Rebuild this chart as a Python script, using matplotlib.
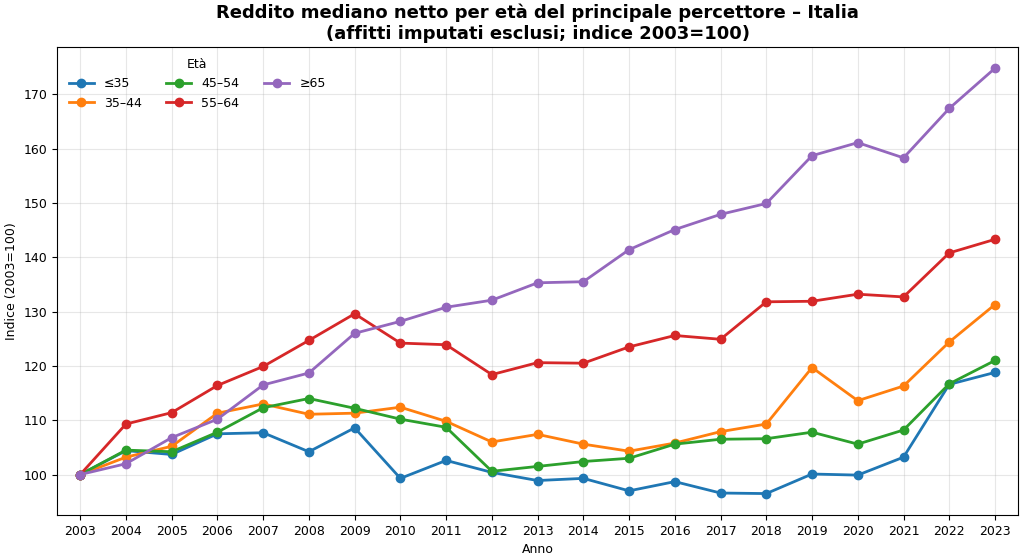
import matplotlib.pyplot as plt

anni = list(range(2003, 2024))

fino_35 = [100, 104.4, 103.7, 107.5, 107.7, 104.2, 108.6, 99.3, 102.6, 100.4, 98.9,
           99.3, 97.0, 98.7, 96.6, 96.5, 100.1, 99.9, 103.2, 116.6, 118.8]
eta_35_44 = [100, 103.2, 105.2, 111.3, 113.0, 111.1, 111.3, 112.4, 109.8, 106.0, 107.4,
             105.6, 104.3, 105.8, 107.9, 109.3, 119.7, 113.6, 116.3, 124.4, 131.3]
eta_45_54 = [100, 104.5, 104.2, 107.8, 112.3, 114.0, 112.2, 110.2, 108.7, 100.6, 101.5,
             102.4, 103.0, 105.6, 106.5, 106.6, 107.8, 105.6, 108.2, 116.7, 121.0]
eta_55_64 = [100, 109.3, 111.4, 116.4, 119.9, 124.7, 129.6, 124.2, 123.9, 118.4, 120.6,
             120.5, 123.5, 125.6, 124.9, 131.8, 131.9, 133.2, 132.7, 140.8, 143.3]
oltre_65 = [100, 102.0, 106.8, 110.2, 116.5, 118.7, 126.0, 128.2, 130.8, 132.1, 135.3,
            135.5, 141.4, 145.1, 147.9, 149.9, 158.7, 161.1, 158.3, 167.4, 174.8]

serie = [("≤35", fino_35), ("35–44", eta_35_44), ("45–54", eta_45_54),
         ("55–64", eta_55_64), ("≥65", oltre_65)]

plt.rcParams["font.size"] = 9

fig, ax = plt.subplots(figsize=(10.24, 5.59), dpi=100)

for nome, valori in serie:
    ax.plot(anni, valori, marker="o", linewidth=2, markersize=6, label=nome)

ax.set_title("Reddito mediano netto per età del principale percettore – Italia\n"
             "(affitti imputati esclusi; indice 2003=100)",
             fontsize=13, fontweight="bold")
ax.set_xlabel("Anno")
ax.set_ylabel("Indice (2003=100)")
ax.set_xticks(anni)
ax.set_xlim(2002.5, 2023.5)
ax.grid(True, alpha=0.3)
ax.legend(title="Età", ncol=3, frameon=False, loc="upper left")

fig.subplots_adjust(left=0.056, right=0.994, top=0.916, bottom=0.079)
fig.savefig("out.png")
